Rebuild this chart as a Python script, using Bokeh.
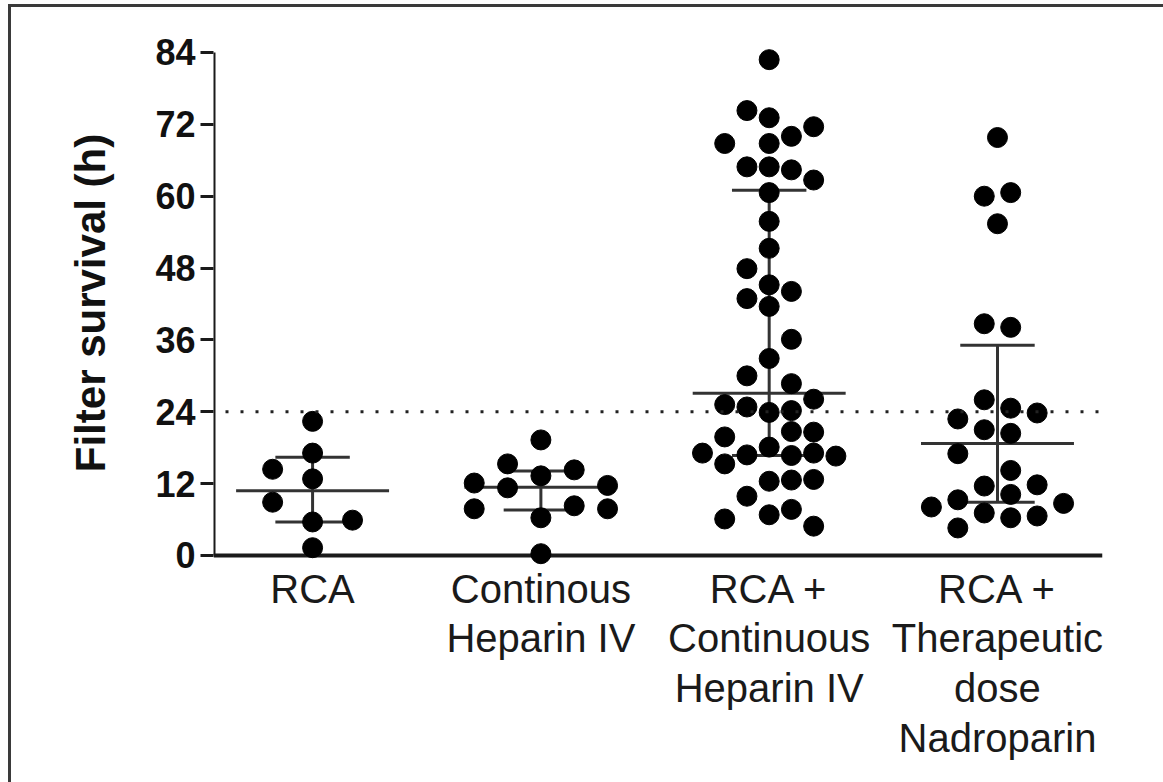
from bokeh.plotting import figure
from bokeh.models import Range1d, FixedTicker, Span, ColumnDataSource
from bokeh.embed import file_html
from bokeh.resources import INLINE

# ---------------- data ----------------
categories = ["RCA",
              "Continous\nHeparin IV",
              "RCA +\nContinuous\nHeparin IV",
              "RCA +\nTherapeutic\ndose\nNadroparin"]

rca_vals = [22.4, 17.1, 14.4, 12.8, 8.9, 5.6, 5.9, 1.3]
rca_slot = [0, 0, -1, 0, -1, 0, 1, 0]

hep_vals = [19.3, 15.3, 14.3, 13.3, 12.1, 11.3, 11.7, 7.8, 8.3, 7.8, 6.3, 0.3]
hep_slot = [0, -1, 1, 0, -2, -1, 2, -2, 1, 2, 0, 0]

rca_hep_vals = [82.8, 74.3, 73.1, 71.6, 70.0, 68.8, 68.8, 64.9, 64.9, 64.4, 62.7,
                60.6, 55.8, 51.3, 47.9, 45.2, 44.1, 42.9, 41.6, 36.1, 32.9, 30.0,
                28.7, 25.2, 24.8, 23.9, 24.2, 26.1, 20.7, 20.6, 19.8, 17.1, 18.1,
                16.8, 16.7, 17.1, 16.6, 15.3, 12.4, 12.6, 12.7, 9.9, 6.8, 7.7, 6.1, 4.9]
rca_hep_slot = [0, -1, 0, 2, 1, -2, 0, -1, 0, 1, 2,
                0, 0, 0, -1, 0, 1, -1, 0, 1, 0, -1,
                1, -2, -1, 0, 1, 2, 1, 2, -2, -3, 0,
                -1, 1, 2, 3, -2, 0, 1, 2, -1, 0, 1, -2, 2]

rca_nad_vals = [69.8, 60.0, 60.6, 55.4, 38.7, 38.1, 26.0, 24.6, 23.8, 22.8, 21.0, 20.4,
                17.0, 14.2, 11.6, 11.8, 10.2, 9.3, 8.1, 8.7, 7.1, 6.3, 6.6, 4.6]
rca_nad_slot = [0, -0.5, 0.5, 0, -0.5, 0.5, -0.5, 0.5, 1.5, -1.5, -0.5, 0.5,
                -1.5, 0.5, -0.5, 1.5, 0.5, -1.5, -2.5, 2.5, -0.5, 0.5, 1.5, -1.5]

medians = [10.8, 11.4, 27.1, 18.7]
q1 = [5.6, 7.6, 16.7, 8.9]
q3 = [16.4, 14.1, 61.0, 35.1]

threshold = 24
y_ticks = [0, 12, 24, 36, 48, 60, 72, 84]

# ---------------- styling / layout ----------------
group_vals = [rca_vals, hep_vals, rca_hep_vals, rca_nad_vals]
group_slots = [rca_slot, hep_slot, rca_hep_slot, rca_nad_slot]
slot_width = [0.175, 0.146, 0.0974, 0.1158]   # swarm spacing per group (x units)
positions = [1, 2, 3, 4]

xs, ys = [], []
for pos, vals, slots, w in zip(positions, group_vals, group_slots, slot_width):
    for v, s in zip(vals, slots):
        xs.append(pos + s * w)
        ys.append(v)

X0, X1 = 0.566, 4.46
p = figure(width=1163, height=782, output_backend="svg", toolbar_location=None,
           x_range=Range1d(X0, X1), y_range=Range1d(-1.67, 86.0),
           min_border_left=213, min_border_right=61, min_border_top=40,
           min_border_bottom=217)
p.grid.visible = False
p.outline_line_color = None
p.background_fill_color = "white"
p.border_fill_alpha = 0
p.styles = {
    "background": "linear-gradient(#3a3a3a,#3a3a3a) 8px 4px / 3px 100% no-repeat, "
                  "linear-gradient(#3a3a3a,#3a3a3a) 8px 4px / 100% 3px no-repeat, white"
}

AX = "#1a1a1a"
LN = "#333333"

# y axis
yax = p.yaxis[0]
yax.ticker = FixedTicker(ticks=y_ticks)
yax.axis_line_color = None
yax.major_tick_line_color = AX
yax.major_tick_line_width = 3
yax.major_tick_out = 13
yax.major_tick_in = 0
yax.minor_tick_line_color = None
yax.major_label_text_font = "Liberation Sans"
yax.major_label_text_font_style = "bold"
yax.major_label_text_font_size = "36px"
yax.major_label_text_color = "#111111"
yax.major_label_standoff = 5
yax.axis_label = "Filter survival (h)"
yax.axis_label_text_font = "Liberation Sans"
yax.axis_label_text_font_style = "bold"
yax.axis_label_text_font_size = "42px"
yax.axis_label_text_color = "#111111"
yax.axis_label_standoff = 38

# x axis (categories)
xax = p.xaxis[0]
xax.ticker = FixedTicker(ticks=positions)
xax.major_label_overrides = {pos: lab for pos, lab in zip(positions, categories)}
xax.axis_line_color = None
xax.major_tick_line_color = None
xax.minor_tick_line_color = None
xax.major_label_text_font = "Liberation Sans"
xax.major_label_text_font_size = "40px"
xax.major_label_text_color = "#1a1a1a"
xax.major_label_text_line_height = 1.13
xax.major_label_standoff = -5

# axis lines
p.segment(x0=[X0], x1=[X0], y0=[y_ticks[0]], y1=[y_ticks[-1]], line_color=AX, line_width=4)
p.segment(x0=[X0], x1=[X1], y0=[y_ticks[0]], y1=[y_ticks[0]], line_color=AX, line_width=4)

# threshold dotted line
p.add_layout(Span(location=threshold, dimension="width", line_color="#222222",
                  line_width=3, line_dash="3 12", line_dash_offset=3))

# median and IQR lines
p.segment(x0=[c - 0.335 for c in positions], x1=[c + 0.335 for c in positions],
          y0=medians, y1=medians, line_color=LN, line_width=3)
p.segment(x0=[c - 0.163 for c in positions], x1=[c + 0.163 for c in positions],
          y0=q1, y1=q1, line_color=LN, line_width=3)
p.segment(x0=[c - 0.163 for c in positions], x1=[c + 0.163 for c in positions],
          y0=q3, y1=q3, line_color=LN, line_width=3)
p.segment(x0=positions, x1=positions, y0=q1, y1=q3, line_color=LN, line_width=3)

# points
src = ColumnDataSource(dict(x=xs, y=ys))
p.scatter("x", "y", source=src, size=20, fill_color="black", line_color="black")

open("out.html", "w").write(file_html(p, INLINE))
